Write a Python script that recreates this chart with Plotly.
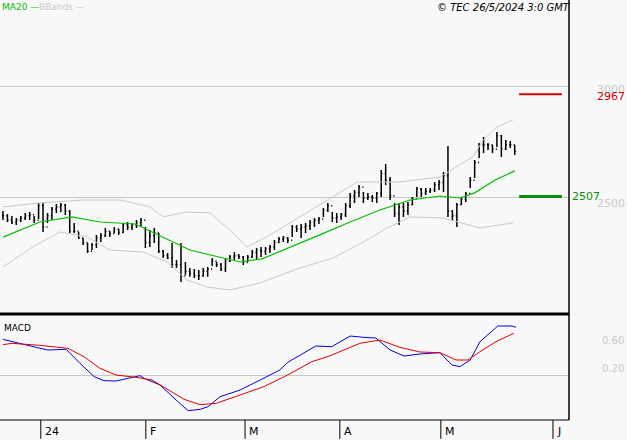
import plotly.graph_objects as go

# daily bars (index 0 = first bar shown, mid-December 2023)
high = [2441, 2428, 2419, 2410, 2419, 2433, 2437, 2419, 2478, 2478,
        2433, 2460, 2473, 2478, 2473, 2446, 2388, 2347, 2320, 2298,
        2298, 2334, 2343, 2365, 2352, 2370, 2361, 2388, 2392, 2388,
        2401, 2410, 2370, 2356, 2365, 2343, 2266, 2253, 2298, 2221,
        2298, 2212, 2185, 2181, 2176, 2185, 2190, 2230, 2212, 2208,
        2226, 2244, 2257, 2248, 2239, 2244, 2266, 2275, 2280, 2280,
        2289, 2311, 2325, 2329, 2325, 2379, 2379, 2383, 2388, 2401,
        2410, 2415, 2455, 2478, 2437, 2433, 2433, 2478, 2523, 2536,
        2559, 2527, 2523, 2514, 2527, 2626, 2653, 2595, 2478, 2478,
        2478, 2482, 2505, 2550, 2545, 2545, 2545, 2572, 2581, 2617,
        2734, 2446, 2478, 2505, 2527, 2595, 2671, 2748, 2775, 2748,
        2739, 2797, 2784, 2761, 2757, 2739]
low = [2401, 2392, 2383, 2379, 2392, 2401, 2401, 2388, 2406, 2347,
       2388, 2401, 2433, 2437, 2424, 2343, 2343, 2316, 2289, 2253,
       2266, 2275, 2302, 2325, 2325, 2343, 2334, 2343, 2356, 2356,
       2365, 2370, 2275, 2280, 2298, 2253, 2230, 2226, 2185, 2185,
       2122, 2154, 2145, 2140, 2131, 2145, 2145, 2194, 2190, 2172,
       2167, 2212, 2221, 2226, 2199, 2212, 2230, 2221, 2235, 2244,
       2253, 2266, 2298, 2302, 2298, 2325, 2347, 2320, 2343, 2356,
       2370, 2383, 2415, 2437, 2392, 2388, 2401, 2415, 2455, 2478,
       2505, 2478, 2491, 2482, 2478, 2505, 2559, 2491, 2415, 2379,
       2415, 2424, 2469, 2505, 2505, 2514, 2523, 2527, 2536, 2527,
       2415, 2401, 2370, 2469, 2482, 2545, 2590, 2680, 2703, 2716,
       2703, 2730, 2685, 2716, 2725, 2694]
close = [2420, 2400, 2390, 2400, 2410, 2420, 2425, 2400, 2465, 2370,
         2420, 2450, 2460, 2470, 2440, 2350, 2350, 2320, 2300, 2260,
         2290, 2320, 2330, 2350, 2340, 2360, 2345, 2380, 2370, 2380,
         2390, 2400, 2300, 2330, 2345, 2260, 2240, 2230, 2200, 2200,
         2150, 2170, 2160, 2150, 2150, 2170, 2180, 2215, 2200, 2180,
         2215, 2235, 2240, 2235, 2210, 2235, 2255, 2265, 2260, 2270,
         2280, 2300, 2315, 2320, 2310, 2370, 2360, 2370, 2375, 2390,
         2400, 2405, 2445, 2465, 2410, 2415, 2425, 2465, 2510, 2525,
         2550, 2500, 2505, 2500, 2520, 2610, 2580, 2510, 2430, 2460,
         2440, 2470, 2495, 2540, 2520, 2530, 2535, 2560, 2570, 2600,
         2440, 2420, 2470, 2495, 2520, 2580, 2660, 2740, 2740, 2740,
         2720, 2780, 2720, 2740, 2740, 2710]
open_ = [close[0]] + close[:-1]
bars = list(range(len(close)))

# MA20 and Bollinger bands, read at the bends
ma_x = [0, 8.3, 15.5, 21.8, 29.7, 35.3, 42, 47.6, 53.3, 58.2, 64.5, 71.2, 78,
        84.7, 91.5, 98.2, 102.7, 106, 110.6, 115]
ma_y = [2324, 2392, 2415, 2392, 2383, 2329, 2266, 2239, 2212, 2226, 2280, 2334,
        2392, 2446, 2491, 2509, 2500, 2523, 2581, 2622]
up_x = [0, 8.3, 18, 26.3, 33, 36, 41.3, 46.5, 51, 54.8, 59.3, 66.7, 75.7, 79.6,
        83.1, 89.2, 98.2, 105.6, 107.9, 111, 114.6]
up_y = [2460, 2478, 2491, 2491, 2460, 2415, 2437, 2433, 2356, 2280, 2325, 2415,
        2523, 2572, 2572, 2572, 2595, 2685, 2761, 2820, 2851]
lo_x = [0, 6.7, 12.8, 18.9, 24, 31.5, 36.9, 41.3, 45.8, 51, 57.8, 66.7, 74.2,
        81.8, 86.3, 91.5, 98.9, 107.2, 114.6]
lo_y = [2190, 2280, 2347, 2325, 2266, 2257, 2212, 2131, 2100, 2086, 2118, 2185,
        2230, 2311, 2365, 2415, 2410, 2365, 2388]

# MACD (x 0.01)
macd_x = [0, 2.0, 7.4, 10.1, 14.2, 17.3, 20.5, 22.7, 25.4, 28.1, 30.8, 31.7,
          35.3, 38.9, 41.6, 44.3, 46.1, 48.8, 53.3, 57.8, 62.2, 64.0, 67.6, 70.3,
          73.9, 78, 81.1, 83.8, 87, 90.1, 93.7, 98.2, 100.9, 102.7, 105, 107.2,
          111.2, 114.4, 115.3]
macd_y = [73.5, 70, 61.5, 57.5, 58.5, 37.5, 17.5, 11.5, 11, 15, 19, 15, 5,
          -17.5, -33.5, -31.5, -27.5, -12.5, -2.5, 12.5, 27.5, 39, 52.5, 63.5,
          62.5, 78.5, 76.5, 75.5, 57.5, 48.5, 51.5, 53.5, 35, 32.5, 42.5, 70,
          93.5, 93.5, 91.5]
sig_x = [0, 2.0, 8.3, 14.6, 18.2, 21.8, 25.4, 29.9, 33.5, 37.1, 40.7, 44.3,
         47.9, 53.3, 58.6, 64.0, 69.4, 73.0, 76.6, 80.2, 84.7, 89.2, 93.7, 98.2,
         101.8, 104.5, 107.2, 110.8, 114.8]
sig_y = [65.5, 67.5, 64.5, 60, 47.5, 30, 20, 16.5, 12.5, -2.5, -16.5, -24.5,
         -22.5, -10, 2.5, 20, 40, 47.5, 57.5, 67.5, 72.5, 61.5, 54.5, 53.5,
         42.5, 42.5, 55, 70, 82.5]

month_pos = [8.5, 32.1, 54.4, 75.7, 98.4, 123.6]
month_lbl = ["24", "F", "M", "A", "M", "J"]
resistance, support = 2967, 2507

font = "DejaVu Sans"
fig = go.Figure()
fig.add_trace(go.Scatter(x=up_x, y=up_y, mode="lines", line=dict(color="#c8c8c8", width=1), yaxis="y"))
fig.add_trace(go.Scatter(x=lo_x, y=lo_y, mode="lines", line=dict(color="#c8c8c8", width=1), yaxis="y"))
fig.add_trace(go.Scatter(x=ma_x, y=ma_y, mode="lines", line=dict(color="#00c000", width=1.2), yaxis="y"))
fig.add_trace(go.Ohlc(x=bars, open=open_, high=high, low=low, close=close, yaxis="y",
                      increasing=dict(line=dict(color="black", width=1.5)),
                      decreasing=dict(line=dict(color="black", width=1.5)),
                      tickwidth=0.25))
fig.add_trace(go.Scatter(x=macd_x, y=macd_y, mode="lines", line=dict(color="#0000e0", width=1), yaxis="y2"))
fig.add_trace(go.Scatter(x=sig_x, y=sig_y, mode="lines", line=dict(color="#e00000", width=1), yaxis="y2"))

shapes = [
    dict(type="line", xref="x", yref="y", x0=116, x1=125.6, y0=resistance, y1=resistance,
         line=dict(color="#d00000", width=2)),
    dict(type="line", xref="x", yref="y", x0=116, x1=125.6, y0=support, y1=support,
         line=dict(color="#009000", width=3)),
    dict(type="line", xref="paper", yref="paper", x0=1, x1=1, y0=0, y1=1, line=dict(color="black", width=1.5)),
    dict(type="line", xref="paper", yref="paper", x0=0, x1=1, y0=0.2524, y1=0.2524, line=dict(color="black", width=3)),
    dict(type="line", xref="paper", yref="paper", x0=0, x1=1, y0=0, y1=0, line=dict(color="black", width=1)),
]
for p in month_pos:
    shapes.append(dict(type="line", xref="x", yref="paper", x0=p, x1=p, y0=0, y1=-0.045,
                       line=dict(color="black", width=1)))

ann = [
    dict(text="MA20 —", x=0, y=1, xref="paper", yref="paper", xanchor="left", yanchor="top",
         font=dict(color="#00c000", size=9, family=font)),
    dict(text="BBands —", x=0.065, y=1, xref="paper", yref="paper", xanchor="left", yanchor="top",
         font=dict(color="#c8c8c8", size=9, family=font)),
    dict(text="<i>© TEC 26/5/2024 3:0 GMT</i>", x=1.005, y=1, xref="paper", yref="paper",
         xanchor="right", yanchor="top", font=dict(color="black", size=10, family=font)),
    dict(text="MACD", x=0.004, y=0.235, xref="paper", yref="paper", xanchor="left", yanchor="top",
         font=dict(color="black", size=9, family=font)),
]
right = [("3000", 3000 - 12, "#c8c8c8", "y", 1.045), ("2967", 2967 - 12, "#d00000", "y", 1.045),
         ("2507", 2507, "#009000", "y", 1.002), ("2500", 2500 - 25, "#c8c8c8", "y", 1.045),
         ("0.60", 72, "#c8c8c8", "y2", 1.055), ("0.20", 30, "#c8c8c8", "y2", 1.055)]
for t, yv, c, yr, xp in right:
    ann.append(dict(text=t, x=xp, y=yv, xref="paper", yref=yr, xanchor="left", yanchor="middle",
                    font=dict(color=c, size=11 if yr == "y" else 10, family=font)))
for p, t in zip(month_pos, month_lbl):
    ann.append(dict(text=t, x=p + 0.4, y=-0.028, xref="x", yref="paper", xanchor="left", yanchor="middle",
                    font=dict(color="black", size=11, family=font)))
for a in ann:
    a["showarrow"] = False

fig.update_layout(
    width=627, height=440,
    margin=dict(l=0, r=58, t=0, b=20, autoexpand=False),
    paper_bgcolor="#f8f8f8", plot_bgcolor="#f8f8f8",
    showlegend=False,
    xaxis=dict(range=[-0.67, 127.2], showgrid=False, zeroline=False, showticklabels=False,
               rangeslider=dict(visible=False), fixedrange=True),
    yaxis=dict(domain=[0.2548, 1], range=[1982.5, 3391], tickvals=[2500, 3000],
               showticklabels=False, gridcolor="#c8c8c8", zeroline=False),
    yaxis2=dict(domain=[0, 0.2476], range=[-47.5, 108.5], tickvals=[20],
                showticklabels=False, gridcolor="#c8c8c8", zeroline=False),
    shapes=shapes, annotations=ann,
)
fig.write_html("out.html", config={"displayModeBar": False},
               post_script="document.body.style.margin='0';document.body.style.overflow='hidden';")
